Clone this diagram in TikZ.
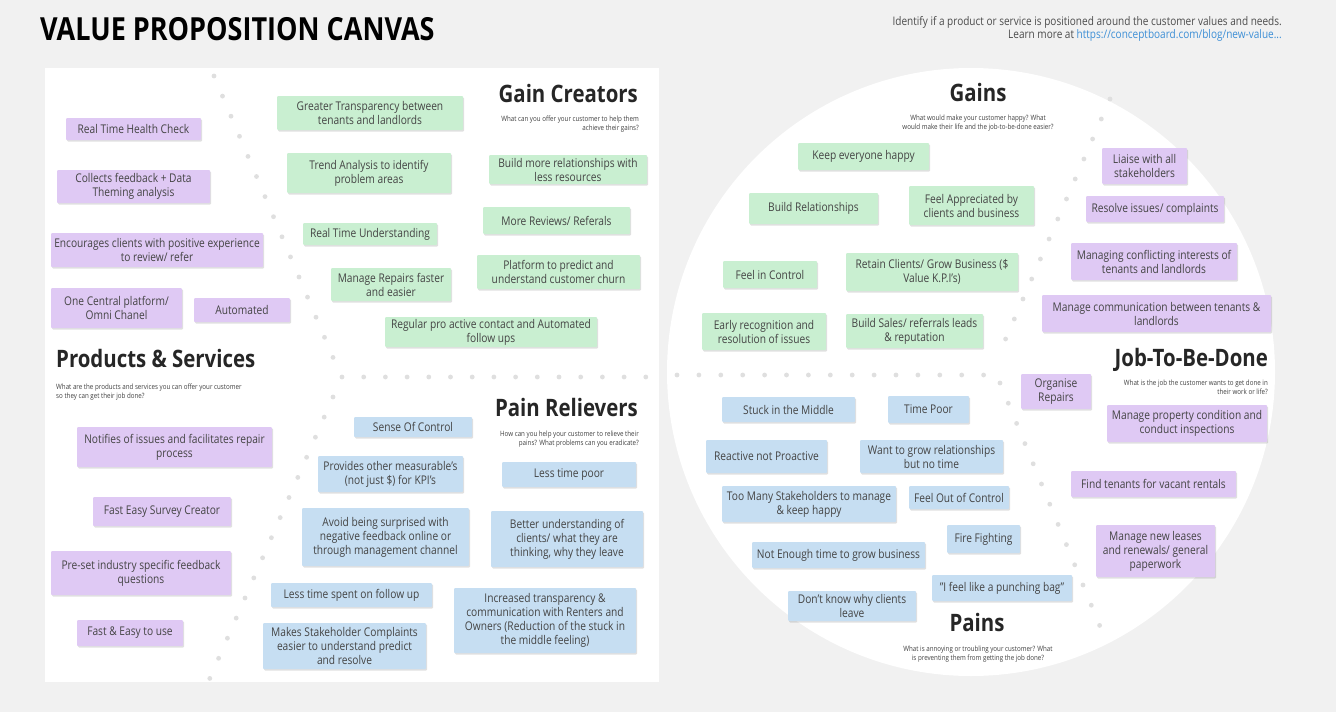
\documentclass[tikz,border=0pt]{standalone}
\usepackage{fontspec}
\setmainfont[FakeStretch=0.85]{Open Sans}
\usetikzlibrary{shadows}

\definecolor{canvasbg}{HTML}{F1F1F1}
\definecolor{dotgrey}{HTML}{DFDFDF}
\definecolor{notepurple}{HTML}{DFC9F4}
\definecolor{notegreen}{HTML}{C9EFD1}
\definecolor{noteblue}{HTML}{C6DEF2}
\definecolor{notetext}{HTML}{444444}
\definecolor{linkblue}{HTML}{3D8FD6}

\begin{document}
\begin{tikzpicture}[x=1pt,y=-1pt,
    note/.style={rounded corners=1pt,align=center,inner sep=1pt,text=notetext,
      font=\fontsize{12}{14}\selectfont,
      drop shadow={shadow xshift=1.2pt,shadow yshift=-1.5pt,fill=black,opacity=0.12}},
    jobnote/.style={note,fill=notepurple},
    gainnote/.style={note,fill=notegreen},
    painnote/.style={note,fill=noteblue},
    heading/.style={font=\fontsize{24}{28}\selectfont\bfseries,text=black!85,inner sep=0pt},
    hint/.style={font=\fontsize{7.3}{8.8}\selectfont,text=black!75,inner sep=0pt},
    canvasdot/.style={fill=dotgrey}]
  \useasboundingbox (0,0) rectangle (1336,712);
  \fill[canvasbg] (0,0) rectangle (1336,712);

  % the two halves of the canvas
  \fill[white] (45,68) rectangle (659,682);
  \fill[white] (971,372) circle[radius=304pt];

  % dotted dividers
  \foreach \i in {0,...,14}{
    \fill[canvasdot] (214+\i*8.5,76+\i*20.1) circle[radius=2.4pt];
    \fill[canvasdot] (342+\i*21.7,377) circle[radius=2.4pt];
    \fill[canvasdot] (333-\i*8.8,397+\i*20.1) circle[radius=2.4pt];
    \fill[canvasdot] (677+\i*21.9,375) circle[radius=2.4pt];
  }
  \foreach \i in {0,...,12}{
    \fill[canvasdot] (1110-\i*8.7,99+\i*20) circle[radius=2.4pt];
    \fill[canvasdot] (1000+\i*8.3,383+\i*20.2) circle[radius=2.4pt];
  }

  % header
  \node[anchor=base west,inner sep=0pt,font=\fontsize{31.8}{36}\selectfont\bfseries] (title) at (40,40) {VALUE PROPOSITION CANVAS};
  \node[anchor=north east,align=right,inner sep=0pt,text=black!70,font=\fontsize{11.8}{13}\selectfont] (intro) at (1282,16.5)
    {Identify if a product or service is positioned around the customer values and needs.\\
     Learn more at \textcolor{linkblue}{https://conceptboard.com/blog/new-value...}};

  % gain creators
  \node[heading,anchor=base east] (gchead) at (638,102) {Gain Creators};
  \node[hint,anchor=north east,align=right] (gchint) at (639,116) {What can you offer your customer to help them\\achieve their gains?};
  \node[gainnote,minimum width=186,minimum height=34] (gc1) at (370,113) {Greater Transparency between\\tenants and landlords};
  \node[gainnote,minimum width=164,minimum height=40] (gc2) at (369,173) {Trend Analysis to identify\\problem areas};
  \node[gainnote,minimum width=134,minimum height=22] (gc3) at (370,234) {Real Time Understanding};
  \node[gainnote,minimum width=120,minimum height=33] (gc4) at (391,284.5) {Manage Repairs faster\\and easier};
  \node[gainnote,minimum width=212,minimum height=30] (gc5) at (491,332) {Regular pro active contact and Automated\\follow ups};
  \node[gainnote,minimum width=158,minimum height=29] (gc6) at (568,169.5) {Build more relationships with\\less resources};
  \node[gainnote,minimum width=147,minimum height=27] (gc7) at (556.5,220.5) {More Reviews/ Referals};
  \node[gainnote,minimum width=163,minimum height=34] (gc8) at (558.5,272) {Platform to predict and\\understand customer churn};

  % products & services
  \node[jobnote,minimum width=135,minimum height=22] (ps1) at (133.5,129) {Real Time Health Check};
  \node[jobnote,minimum width=153,minimum height=33] (ps2) at (133.5,186.5) {Collects feedback + Data\\Theming analysis};
  \node[jobnote,minimum width=212,minimum height=34] (ps3) at (157,250) {Encourages clients with positive experience\\to review/ refer};
  \node[jobnote,minimum width=131,minimum height=40] (ps4) at (116.5,308) {One Central platform/\\Omni Chanel};
  \node[jobnote,minimum width=96,minimum height=24] (ps5) at (242,310) {Automated};
  \node[heading,anchor=base west] (pshead) at (56,367) {Products \& Services};
  \node[hint,anchor=north west,align=left] (pshint) at (56,384) {What are the products and services you can offer your customer\\so they can get their job done?};
  \node[jobnote,minimum width=195,minimum height=40] (ps6) at (174.5,447) {Notifies of issues and facilitates repair\\process};
  \node[jobnote,minimum width=138,minimum height=29] (ps7) at (162,511.5) {Fast Easy Survey Creator};
  \node[jobnote,minimum width=180,minimum height=44] (ps8) at (141,573) {Pre-set industry specific feedback\\questions};
  \node[jobnote,minimum width=106,minimum height=26] (ps9) at (130,633) {Fast \& Easy to use};

  % pain relievers
  \node[heading,anchor=base east] (prhead) at (638,416) {Pain Relievers};
  \node[hint,anchor=north east,align=right] (prhint) at (639,431) {How can you help your customer to relieve their\\pains? What problems can you eradicate?};
  \node[painnote,minimum width=118,minimum height=20] (pr1) at (413,427) {Sense Of Control};
  \node[painnote,minimum width=145,minimum height=36] (pr2) at (390.5,474) {Provides other measurable's\\(not just \$) for KPI's};
  \node[painnote,minimum width=167,minimum height=58] (pr3) at (385.5,537) {Avoid being surprised with\\negative feedback online or\\through management channel};
  \node[painnote,minimum width=161,minimum height=24] (pr4) at (351.5,595) {Less time spent on follow up};
  \node[painnote,minimum width=163,minimum height=46] (pr5) at (344.5,646) {Makes Stakeholder Complaints\\easier to understand predict\\and resolve};
  \node[painnote,minimum width=134,minimum height=25] (pr6) at (569,474.5) {Less time poor};
  \node[painnote,minimum width=152,minimum height=56] (pr7) at (567,539) {Better understanding of\\clients/ what they are\\thinking, why they leave};
  \node[painnote,minimum width=182,minimum height=65] (pr8) at (545,620.5) {Increased transparency \&\\communication with Renters and\\Owners (Reduction of the stuck in\\the middle feeling)};

  % gains
  \node[heading,anchor=base] (gnhead) at (978,101) {Gains};
  \node[hint,anchor=north,align=center] (gnhint) at (978,115) {What would make your customer happy? What\\would make their life and the job-to-be-done easier?};
  \node[gainnote,minimum width=131,minimum height=27] (gn1) at (863.5,156.5) {Keep everyone happy};
  \node[gainnote,minimum width=129,minimum height=31] (gn2) at (813.5,208.5) {Build Relationships};
  \node[gainnote,minimum width=125,minimum height=39] (gn3) at (971.5,205.5) {Feel Appreciated by\\clients and business};
  \node[gainnote,minimum width=94,minimum height=27] (gn4) at (770,274.5) {Feel in Control};
  \node[gainnote,minimum width=172,minimum height=38] (gn5) at (932,272) {Retain Clients/ Grow Business (\$\\Value K.P.I's)};
  \node[gainnote,minimum width=124,minimum height=37] (gn6) at (764,331.5) {Early recognition and\\resolution of issues};
  \node[gainnote,minimum width=137,minimum height=34] (gn7) at (914.5,331) {Build Sales/ referrals leads\\\& reputation};

  % job-to-be-done
  \node[jobnote,minimum width=85,minimum height=36] (jb1) at (1144.5,166) {Liaise with all\\stakeholders};
  \node[jobnote,minimum width=138,minimum height=26] (jb2) at (1155,209) {Resolve issues/ complaints};
  \node[jobnote,minimum width=166,minimum height=37] (jb3) at (1154,261.5) {Managing conflicting interests of\\tenants and landlords};
  \node[jobnote,minimum width=229,minimum height=37] (jb4) at (1156.5,313.5) {Manage communication between tenants \&\\landlords};
  \node[heading,anchor=base east] (jbhead) at (1268,366) {Job-To-Be-Done};
  \node[hint,anchor=north east,align=right] (jbhint) at (1268,380) {What is the job the customer wants to get done in\\their work or life?};
  \node[jobnote,minimum width=70,minimum height=35] (jb5) at (1056,391.5) {Organise\\Repairs};
  \node[jobnote,minimum width=160,minimum height=37] (jb6) at (1187,423.5) {Manage property condition and\\conduct inspections};
  \node[jobnote,minimum width=165,minimum height=26] (jb7) at (1153.5,484) {Find tenants for vacant rentals};
  \node[jobnote,minimum width=119,minimum height=52] (jb8) at (1155.5,551) {Manage new leases\\and renewals/ general\\paperwork};

  % pains
  \node[painnote,minimum width=133,minimum height=25] (pn1) at (788.5,409.5) {Stuck in the Middle};
  \node[painnote,minimum width=81,minimum height=27] (pn2) at (928.5,409.5) {Time Poor};
  \node[painnote,minimum width=121,minimum height=33] (pn3) at (766.5,456.5) {Reactive not Proactive};
  \node[painnote,minimum width=143,minimum height=33] (pn4) at (931.5,456.5) {Want to grow relationships\\but no time};
  \node[painnote,minimum width=174,minimum height=36] (pn5) at (809,504) {Too Many Stakeholders to manage\\\& keep happy};
  \node[painnote,minimum width=100,minimum height=23] (pn6) at (959,497.5) {Feel Out of Control};
  \node[painnote,minimum width=73,minimum height=28] (pn7) at (983.5,539) {Fire Fighting};
  \node[painnote,minimum width=173,minimum height=26] (pn8) at (838.5,555) {Not Enough time to grow business};
  \node[painnote,minimum width=140,minimum height=26] (pn9) at (1002,588) {"I feel like a punching bag"};
  \node[painnote,minimum width=128,minimum height=30] (pn10) at (852,606) {Don't know why clients\\leave};
  \node[heading,anchor=base] (pnhead) at (977,631) {Pains};
  \node[hint,anchor=north,align=center] (pnhint) at (978,646) {What is annoying or troubling your customer? What\\is preventing them from getting the job done?};
\end{tikzpicture}
\end{document}
